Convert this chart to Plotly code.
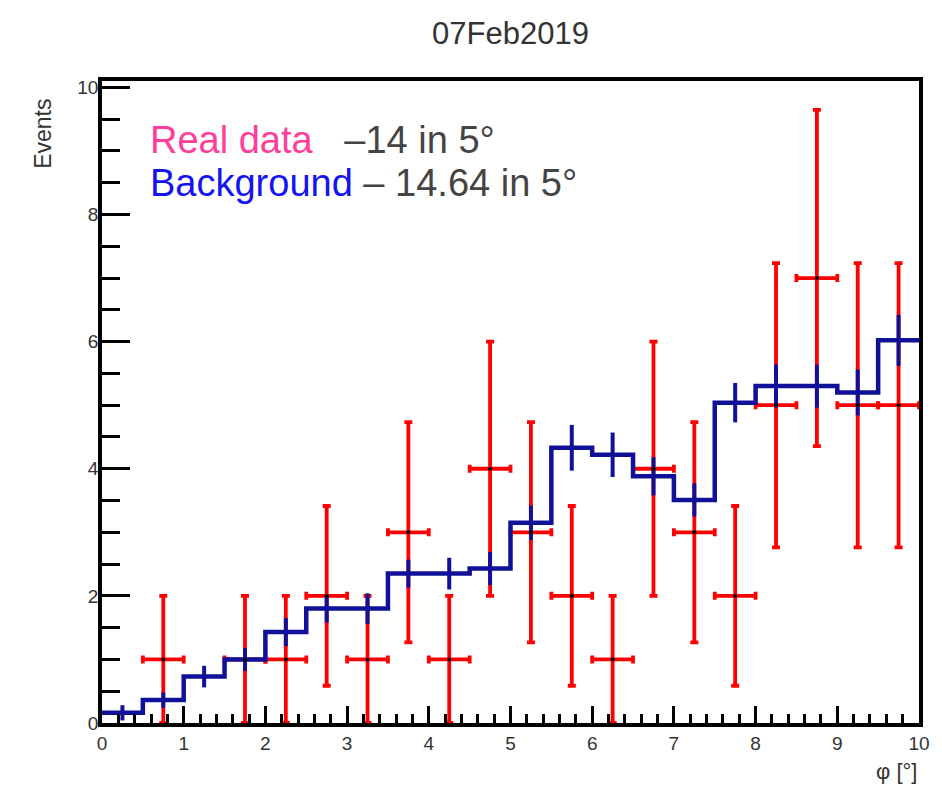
import numpy as np
import plotly.graph_objects as go

# Histogram binning: 20 bins of width 0.5 over [0, 10]
bin_edges = [i * 0.5 for i in range(21)]
bin_centers = [0.25 + i * 0.5 for i in range(20)]

# Observed counts per bin
data_counts = [0, 1, 0, 1, 1, 2, 1, 3, 1, 4, 3, 2, 1, 4, 3, 2, 5, 7, 5, 5]

# Expected background per bin and its uncertainty
bkg_values = [0.16, 0.36, 0.73, 1.00, 1.43, 1.80, 1.80, 2.35, 2.35, 2.43,
              3.15, 4.33, 4.22, 3.88, 3.51, 5.04, 5.30, 5.30, 5.20, 6.02]
bkg_errors = [0.12, 0.12, 0.17, 0.18, 0.22, 0.22, 0.24, 0.22, 0.25, 0.26,
              0.27, 0.36, 0.35, 0.30, 0.26, 0.31, 0.34, 0.34, 0.36, 0.40]

title_text = "07Feb2019"
y_title = "Events"
x_title = "φ [°]"
legend_lines = [
    ("Real data", "#ff3d9a", "\u00a0\u00a0\u00a0–14 in 5°"),
    ("Background", "#1414f0", " – 14.64 in 5°"),
]

FONT = "Liberation Sans, Arial, Helvetica, sans-serif"
RED = "#ff0000"
BLUE = "#101099"

# Data points: skip empty bins, Poisson sqrt(N) errors, half-bin x errors
nz = [i for i, c in enumerate(data_counts) if c > 0]
dx = [bin_centers[i] for i in nz]
dy = [data_counts[i] for i in nz]
derr = [float(np.sqrt(c)) for c in dy]
half_w = [(bin_edges[i + 1] - bin_edges[i]) / 2 for i in nz]

fig = go.Figure()

fig.add_trace(go.Scatter(
    x=dx, y=dy, mode="markers",
    marker=dict(size=1, color=RED),
    error_y=dict(type="data", array=derr, color=RED, thickness=3.8, width=4),
    error_x=dict(type="data", array=half_w, color=RED, thickness=3.8, width=4),
    showlegend=False, hoverinfo="skip",
))

# Background as a step histogram
step_x = bin_edges
step_y = bkg_values + [bkg_values[-1]]
fig.add_trace(go.Scatter(
    x=step_x, y=step_y, mode="lines", line_shape="hv",
    line=dict(color=BLUE, width=4.5),
    showlegend=False, hoverinfo="skip",
))
fig.add_trace(go.Scatter(
    x=bin_centers, y=bkg_values, mode="markers",
    marker=dict(size=1, color=BLUE),
    error_y=dict(type="data", array=bkg_errors, color=BLUE, thickness=4, width=0),
    showlegend=False, hoverinfo="skip",
))

# Data point markers on top
fig.add_trace(go.Scatter(
    x=dx, y=dy, mode="markers",
    marker=dict(size=4, color="black"),
    showlegend=False, hoverinfo="skip",
))

annotations = []
for k, (label, color, rest) in enumerate(legend_lines):
    annotations.append(dict(
        xref="paper", yref="paper", x=0.056, y=0.908 - k * 0.067,
        xanchor="left", yanchor="middle", showarrow=False,
        text=f"<span style='color:{color}'>{label}</span>{rest}",
        font=dict(family=FONT, size=38, color="#444444"),
    ))
annotations.append(dict(
    xref="paper", yref="paper", x=-0.0715, y=0.917,
    xanchor="center", yanchor="middle", showarrow=False, textangle=-90,
    text=y_title, font=dict(family=FONT, size=23, color="#333333"),
))
annotations.append(dict(
    xref="paper", yref="paper", x=1.0, y=-0.075,
    xanchor="right", yanchor="middle", showarrow=False,
    text=x_title, font=dict(family=FONT, size=22, color="#333333"),
))

axis_common = dict(
    showline=True, linecolor="black", linewidth=3.5, mirror=True,
    ticks="inside", tickcolor="black", tickwidth=3,
    showgrid=False, zeroline=False,
    tickfont=dict(family=FONT, size=19, color="#333333"),
)

fig.update_layout(
    width=942, height=793,
    margin=dict(l=102, r=20, t=81, b=70),
    paper_bgcolor="white", plot_bgcolor="white",
    title=dict(text=title_text, x=0.5, xref="paper", y=1 - 33 / 793,
               yref="container", xanchor="center", yanchor="middle",
               font=dict(family=FONT, size=31, color="#333333")),
    xaxis=dict(range=[0, 10], dtick=1, ticklen=17,
               minor=dict(dtick=0.2, ticks="inside", ticklen=9,
                          tickwidth=3, tickcolor="black"),
               **axis_common),
    yaxis=dict(range=[0, 10.1], tickvals=[0, 2, 4, 6, 8, 10], ticklen=28,
               ticklabelstandoff=-4,
               minor=dict(dtick=0.5, ticks="inside", ticklen=18,
                          tickwidth=3, tickcolor="black"),
               **axis_common),
    annotations=annotations,
)

fig.write_html("out.html")
